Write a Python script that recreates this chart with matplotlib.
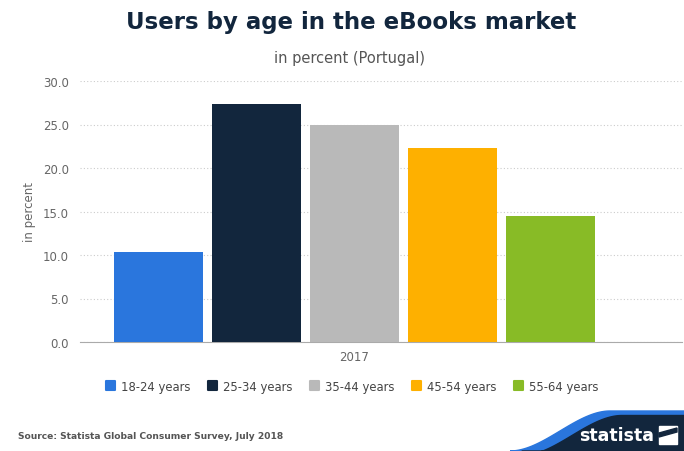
import numpy as np
import matplotlib.pyplot as plt
from matplotlib.patches import Polygon

# user shares by age group, Portugal 2017
groups = ['18-24 years', '25-34 years', '35-44 years', '45-54 years', '55-64 years']
shares = [10.3, 27.4, 24.9, 22.3, 14.5]
colors = ['#2a76dd', '#12263d', '#b9b9b9', '#feb000', '#88bb26']
year = '2017'
yticks = [0, 5, 10, 15, 20, 25, 30]

W, H = 684, 452

def fig_xy(px, py):
    # pixel coords (top-left origin) -> figure fraction
    return np.column_stack([np.asarray(px) / W, 1 - np.asarray(py) / H])

fig = plt.figure(figsize=(6.84, 4.52), dpi=100)
fig.patch.set_facecolor('white')
ax = fig.add_axes([80/W, (H-343)/H, 602/W, 261/H])

x = np.arange(len(groups))
for i in range(len(groups)):
    ax.bar(x[i], shares[i], width=0.9, color=colors[i], label=groups[i], zorder=3)

ax.set_xlim(-0.80, 5.34)
ax.set_ylim(0, 30)
ax.set_yticks(yticks)
ax.set_yticklabels(['%.1f' % v for v in yticks], color='#666666', fontsize=8.5)
ax.set_xticks([2])
ax.set_xticklabels([year], color='#666666', fontsize=8.5)
ax.tick_params(length=0, pad=8)
ax.tick_params(axis='x', pad=6)
ax.grid(axis='y', linestyle=(0, (1, 2)), color='#cccccc', linewidth=0.8, zorder=0)
for s in ['top', 'right', 'left']:
    ax.spines[s].set_visible(False)
ax.spines['bottom'].set_color('#aaaaaa')
ax.set_ylabel('in percent', color='#666666', fontsize=8.5, labelpad=5)

fig.text(351/W, 1 - 23/H, 'Users by age in the eBooks market', ha='center', va='center',
         fontsize=16.5, fontweight='bold', color='#12263d')
fig.text(350/W, 1 - 58/H, 'in percent (Portugal)', ha='center', va='center',
         fontsize=10.5, color='#555555')

leg = fig.legend(loc='center', bbox_to_anchor=(352/W, 1 - 387/H), ncol=5, frameon=False,
                 fontsize=8.4, handlelength=0.75, handleheight=0.75, handletextpad=0.5,
                 columnspacing=1.55)
for t in leg.get_texts():
    t.set_color('#444444')
for h in leg.legend_handles:
    h.set_joinstyle('round')
    h.set_linewidth(1.5)
    h.set_edgecolor(h.get_facecolor())

fig.text(18/W, 1 - 437/H, 'Source: Statista Global Consumer Survey, July 2018',
         fontsize=6.6, fontweight='bold', color='#555555', va='center',
         family='DejaVu Sans Condensed')

# wave banner in the bottom right corner
t = np.linspace(0, 1, 80)
s = t * t * (3 - 2 * t)
wx = np.r_[510 + 100 * t, 684]
wy = np.r_[452 - 40 * s, 412]
blue = fig_xy(np.r_[wx, 684, 510], np.r_[wy, 452, 452])
navy = fig_xy(np.r_[wx + 12, 684, 522], np.r_[wy + 4.5, 452, 452])
fig.patches.append(Polygon(blue, closed=True, transform=fig.transFigure,
                           color='#2a76dd', zorder=1))
fig.patches.append(Polygon(navy, closed=True, transform=fig.transFigure,
                           color='#12263d', zorder=2))

# statista logo
fig.text(617/W, 1 - 436/H, 'statista', ha='center', va='center', fontsize=12.5,
         fontweight='bold', color='white', family='DejaVu Sans Condensed', zorder=3)
fig.patches.append(Polygon(fig_xy([659, 677, 677, 659], [445, 445, 427, 427]), closed=True,
                           transform=fig.transFigure, color='white', zorder=3))
fig.patches.append(Polygon(fig_xy([659, 677, 677, 659], [438, 433, 429, 434]), closed=True,
                           transform=fig.transFigure, color='#12263d', zorder=4))

fig.savefig('out.png', dpi=100)
